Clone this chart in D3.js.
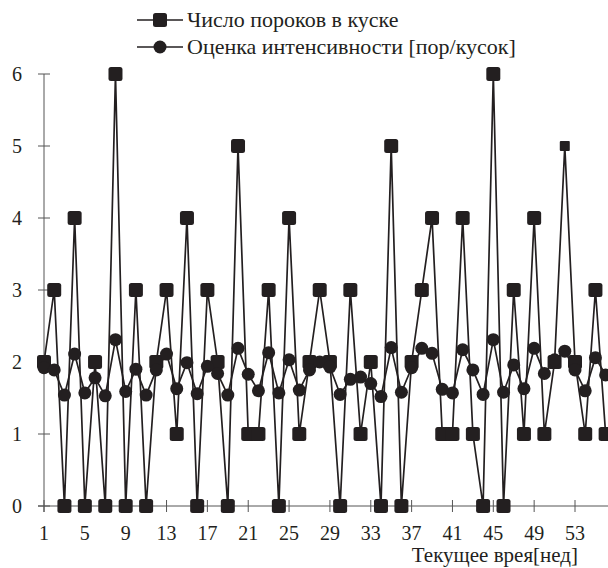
<!DOCTYPE html>
<html><head><meta charset="utf-8">
<script src="https://cdn.jsdelivr.net/npm/d3@7"></script>
<style>body{margin:0;background:#fff}svg{display:block}text{font-family:"Liberation Serif","Times New Roman",serif}</style>
</head><body>
<svg id="c" width="608" height="568"></svg>
<script>
const weeks = d3.range(1, 57);
const defects = [2,3,0,4,0,2,0,6,0,3,0,2,3,1,4,0,3,2,0,5,1,1,3,0,4,1,2,3,2,0,3,1,2,0,5,0,2,3,4,1,1,4,1,0,6,0,3,1,4,1,2,5,2,1,3,1];
const intensity = [1.92,1.89,1.54,2.11,1.57,1.78,1.53,2.31,1.59,1.9,1.54,1.89,2.11,1.63,1.99,1.56,1.94,1.84,1.54,2.19,1.83,1.6,2.13,1.57,2.03,1.61,1.89,2.0,1.93,1.55,1.76,1.79,1.70,1.52,2.2,1.58,1.92,2.19,2.12,1.62,1.57,2.17,1.89,1.55,2.31,1.58,1.96,1.63,2.19,1.84,2.03,2.15,1.89,1.6,2.06,1.82];
const xTicks = [1,5,9,13,17,21,25,29,33,37,41,45,49,53];
const yTicks = [0,1,2,3,4,5,6];
const legendLabels = ["Число пороков в куске", "Оценка интенсивности [пор/кусок]"];
const xTitle = "Текущее врея[нед]";

const ink = "#231f20";
const svg = d3.select("#c");
const x = d3.scaleLinear().domain([1, 53]).range([44, 575]);
const y = d3.scaleLinear().domain([0, 6]).range([506, 74]);

// axes
const yAxis = svg.append("g");
yAxis.append("line").attr("x1", x(1)).attr("x2", x(1)).attr("y1", y(6)).attr("y2", y(0) + 6).attr("stroke", "#555").attr("stroke-width", 1);
yAxis.selectAll(".t").data(yTicks).join("line")
  .attr("x1", x(1) - 6).attr("x2", x(1) + 6).attr("y1", d => y(d)).attr("y2", d => y(d)).attr("stroke", "#555");
yAxis.selectAll("text").data(yTicks).join("text")
  .attr("x", 22).attr("y", d => y(d) + 7).attr("text-anchor", "end")
  .attr("font-size", 20).attr("fill", ink).text(d => d);

const xAxis = svg.append("g");
xAxis.append("line").attr("x1", x(1) - 6).attr("x2", 608).attr("y1", y(0)).attr("y2", y(0)).attr("stroke", "#555");
xAxis.selectAll(".t").data(xTicks).join("line")
  .attr("x1", d => x(d)).attr("x2", d => x(d)).attr("y1", y(0) - 6).attr("y2", y(0) + 6).attr("stroke", "#555");
xAxis.selectAll("text").data(xTicks).join("text")
  .attr("x", d => x(d)).attr("y", 540).attr("text-anchor", "middle")
  .attr("font-size", 20).attr("fill", ink).text(d => d);
svg.append("text").attr("x", 578).attr("y", 562).attr("text-anchor", "end")
  .attr("font-size", 21).attr("fill", ink).text(xTitle);

// lines
const line = d3.line().x((d, i) => x(weeks[i])).y(d => y(d));
svg.append("path").attr("d", line(defects)).attr("fill", "none").attr("stroke", ink).attr("stroke-width", 1.7);
svg.append("path").attr("d", line(intensity)).attr("fill", "none").attr("stroke", ink).attr("stroke-width", 1.7);

// markers
svg.append("g").selectAll("rect").data(defects).join("rect")
  .attr("x", (d, i) => x(weeks[i]) - (i === 51 ? 5 : 7))
  .attr("y", (d, i) => y(d) - (i === 51 ? 5 : 7))
  .attr("width", (d, i) => i === 51 ? 10 : 14).attr("height", (d, i) => i === 51 ? 10 : 14)
  .attr("rx", (d, i) => i === 51 ? 1 : 2.5).attr("fill", ink);
svg.append("g").selectAll("circle").data(intensity).join("circle")
  .attr("cx", (d, i) => x(weeks[i])).attr("cy", d => y(d)).attr("r", 6.5).attr("fill", ink);

// legend
const lg = svg.append("g");
const rows = [20, 47];
rows.forEach((ry, k) => {
  lg.append("line").attr("x1", 137).attr("x2", 183).attr("y1", ry).attr("y2", ry).attr("stroke", ink).attr("stroke-width", 1.7);
  if (k === 0) lg.append("rect").attr("x", 153).attr("y", ry - 7).attr("width", 14).attr("height", 14).attr("rx", 2.5).attr("fill", ink);
  else lg.append("circle").attr("cx", 160).attr("cy", ry).attr("r", 6.5).attr("fill", ink);
  lg.append("text").attr("x", 187).attr("y", ry + 7).attr("font-size", 22).attr("fill", ink).text(legendLabels[k]);
});
</script>
</body></html>
